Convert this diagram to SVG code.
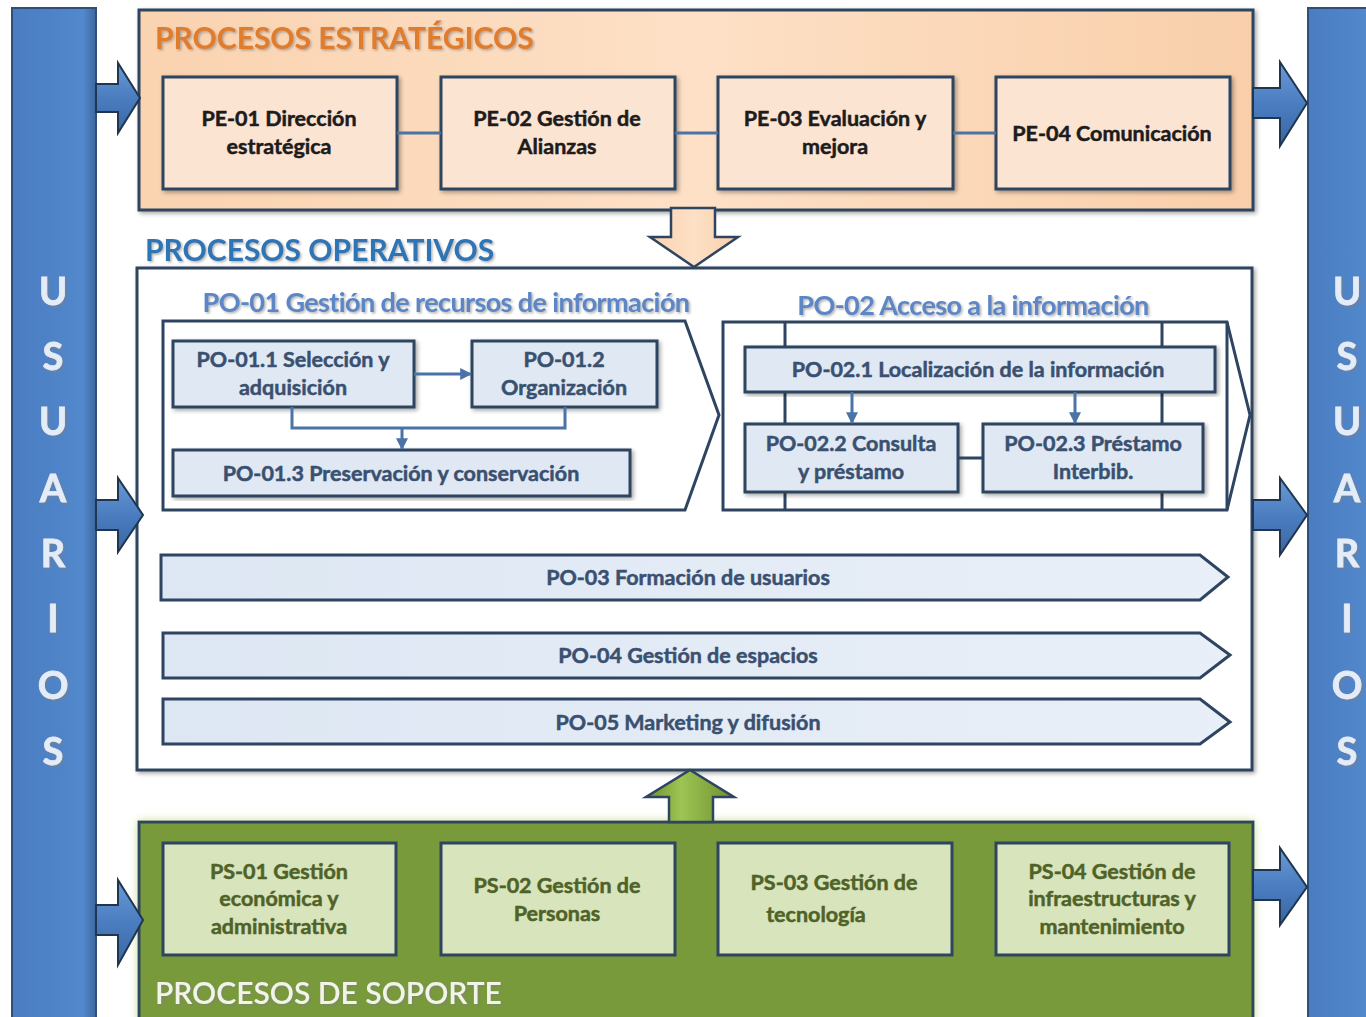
<svg xmlns="http://www.w3.org/2000/svg" width="1366" height="1017" viewBox="0 0 1366 1017">
<defs>
<linearGradient id="gBar" x1="0" y1="0" x2="1" y2="0">
<stop offset="0" stop-color="#4a7cc0"/><stop offset="0.85" stop-color="#5288cc"/><stop offset="1" stop-color="#3d679f"/>
</linearGradient>
<linearGradient id="gArrow" x1="0" y1="0" x2="0" y2="1">
<stop offset="0" stop-color="#6a9ad6"/><stop offset="0.5" stop-color="#4a7dc0"/><stop offset="1" stop-color="#3a66a3"/>
</linearGradient>
<linearGradient id="gOrange" x1="0" y1="0" x2="1" y2="0">
<stop offset="0" stop-color="#fad3b0"/><stop offset="0.5" stop-color="#fde0c6"/><stop offset="1" stop-color="#f9cfaa"/>
</linearGradient>
<linearGradient id="gGreen" x1="0" y1="0" x2="1" y2="0">
<stop offset="0" stop-color="#6f8f2e"/><stop offset="0.4" stop-color="#9dc454"/><stop offset="1" stop-color="#6f8f2e"/>
</linearGradient>
<linearGradient id="gChev" x1="0" y1="0" x2="1" y2="0">
<stop offset="0" stop-color="#dde7f3"/><stop offset="1" stop-color="#e9eff8"/>
</linearGradient>
<filter id="sh" x="-5%" y="-5%" width="110%" height="115%">
<feDropShadow dx="2" dy="2" stdDeviation="2" flood-color="#000" flood-opacity="0.35"/>
</filter>
<filter id="tsh" x="-5%" y="-20%" width="110%" height="150%">
<feDropShadow dx="1.5" dy="1.5" stdDeviation="1" flood-color="#7f7f7f" flood-opacity="0.6"/>
</filter>
<filter id="glow" x="-3%" y="-10%" width="106%" height="120%">
<feDropShadow dx="0" dy="0" stdDeviation="4" flood-color="#c3dc8c" flood-opacity="0.9"/>
</filter>
<marker id="ah" viewBox="0 0 10 10" refX="9" refY="5" markerWidth="4" markerHeight="4" orient="auto" markerUnits="strokeWidth">
<path d="M0,0 L10,5 L0,10 z" fill="#4a73a8"/>
</marker>
</defs>
<style>
.box{stroke:#2e4461;stroke-width:3}
.pe{fill:#fce4d3}
.po{fill:#dfe8f3}
.ps{fill:#d8e4bc}
.t{font-family:Lato,"Open Sans",sans-serif;font-weight:bold;text-anchor:middle;dominant-baseline:central;font-size:21.5px;stroke-width:0.5px}
.tpe{fill:#1c1c1c;stroke:#1c1c1c}
.tpo{fill:#3a5070;stroke:#3a5070}
.tps{fill:#4f6228;stroke:#4f6228}
.title{font-family:Lato,"Open Sans",sans-serif;font-weight:bold;font-size:30px}
.sub{font-family:Lato,"Open Sans",sans-serif;font-weight:bold;font-size:27px;fill:#5b86c6;text-anchor:middle;dominant-baseline:central;letter-spacing:-0.6px}
.usr{font-family:Lato,"Open Sans",sans-serif;font-weight:bold;font-size:38px;fill:#e4ecf7;text-anchor:middle;dominant-baseline:central;stroke:#e4ecf7;stroke-width:0.8px}
.ln{fill:none;stroke:#4a73a8;stroke-width:3}
.blk{stroke:#1f3550;stroke-width:2}
</style>
<rect width="1366" height="1017" fill="#ffffff"/>

<g id="usuarios-left">
<rect x="12" y="8" width="84" height="1012" fill="url(#gBar)" stroke="#2f4f7a" stroke-width="2"/>
<g class="usr" filter="url(#tsh)">
<text x="53" y="290">U</text><text x="53" y="355">S</text><text x="53" y="420">U</text><text x="53" y="487">A</text>
<text x="53" y="552">R</text><text x="53" y="617">I</text><text x="53" y="684">O</text><text x="53" y="750">S</text>
</g>
</g>
<g id="usuarios-right">
<rect x="1308" y="8" width="70" height="1012" fill="url(#gBar)" stroke="#2f4f7a" stroke-width="2"/>
<g class="usr" filter="url(#tsh)">
<text x="1347" y="290">U</text><text x="1347" y="355">S</text><text x="1347" y="420">U</text><text x="1347" y="487">A</text>
<text x="1347" y="552">R</text><text x="1347" y="617">I</text><text x="1347" y="684">O</text><text x="1347" y="750">S</text>
</g>
</g>

<g id="estrategicos">
<rect x="139" y="10" width="1114" height="200" fill="url(#gOrange)" stroke="#2e4461" stroke-width="3" filter="url(#sh)"/>
<text x="155" y="49" class="title" fill="#e07b2a" filter="url(#tsh)">PROCESOS ESTRATÉGICOS</text>
</g>
<g id="pe01"><rect x="163" y="77" width="234" height="112" class="box pe" filter="url(#sh)"/>
<text class="t tpe" x="279"><tspan x="279" y="118">PE-01 Dirección</tspan><tspan x="279" y="146">estratégica</tspan></text></g>
<g id="pe02"><rect x="441" y="77" width="234" height="112" class="box pe" filter="url(#sh)"/>
<text class="t tpe"><tspan x="557" y="118">PE-02 Gestión de</tspan><tspan x="557" y="146">Alianzas</tspan></text></g>
<g id="pe03"><rect x="718" y="77" width="235" height="112" class="box pe" filter="url(#sh)"/>
<text class="t tpe"><tspan x="835" y="118">PE-03 Evaluación y</tspan><tspan x="835" y="146">mejora</tspan></text></g>
<g id="pe04"><rect x="996" y="77" width="234" height="112" class="box pe" filter="url(#sh)"/>
<text class="t tpe" x="1112" y="133">PE-04 Comunicación</text></g>

<g id="operativos">
<text x="145" y="261" class="title" fill="#2e74b5" filter="url(#tsh)">PROCESOS OPERATIVOS</text>
<rect x="137" y="268" width="1115" height="502" fill="#ffffff" stroke="#2e4461" stroke-width="3" filter="url(#sh)"/>
</g>

<g id="po01">
<text class="sub" x="446" y="301" filter="url(#tsh)">PO-01 Gestión de recursos de información</text>
<path d="M163,321 L685,321 L719,415 L685,510 L163,510 Z" fill="#ffffff" class="box"/>
</g>
<g id="po011"><rect x="173" y="341" width="241" height="66" class="box po" filter="url(#sh)"/>
<text class="t tpo"><tspan x="293" y="359">PO-01.1 Selección y</tspan><tspan x="293" y="387">adquisición</tspan></text></g>
<g id="po012"><rect x="472" y="341" width="185" height="66" class="box po" filter="url(#sh)"/>
<text class="t tpo"><tspan x="564" y="359">PO-01.2</tspan><tspan x="564" y="387">Organización</tspan></text></g>
<g id="po013"><rect x="173" y="450" width="457" height="46" class="box po" filter="url(#sh)"/>
<text class="t tpo" x="401" y="473">PO-01.3 Preservación y conservación</text></g>

<g id="po02">
<text class="sub" x="973" y="304" filter="url(#tsh)">PO-02 Acceso a la información</text>
<path d="M723,322 L1227,322 L1250,415 L1227,510 L723,510 Z" fill="#ffffff" class="box"/>
<line x1="1227" y1="322" x2="1227" y2="510" class="box"/>
<line x1="785" y1="322" x2="785" y2="510" class="box"/>
<line x1="1162" y1="322" x2="1162" y2="510" class="box"/>
</g>
<g id="po021"><rect x="745" y="347" width="470" height="45" class="box po" filter="url(#sh)"/>
<text class="t tpo" x="978" y="369">PO-02.1 Localización de la información</text></g>
<g id="po022"><rect x="745" y="424" width="213" height="68" class="box po" filter="url(#sh)"/>
<text class="t tpo"><tspan x="851" y="443">PO-02.2 Consulta</tspan><tspan x="851" y="471">y préstamo</tspan></text></g>
<g id="po023"><rect x="983" y="424" width="220" height="68" class="box po" filter="url(#sh)"/>
<text class="t tpo"><tspan x="1093" y="443">PO-02.3 Préstamo</tspan><tspan x="1093" y="471">Interbib.</tspan></text></g>

<g id="po03"><path d="M161,555 L1200,555 L1228,577 L1200,600 L161,600 Z" fill="url(#gChev)" class="box"/>
<text class="t tpo" x="688" y="577">PO-03 Formación de usuarios</text></g>
<g id="po04"><path d="M163,633 L1200,633 L1230,655 L1200,678 L163,678 Z" fill="url(#gChev)" class="box"/>
<text class="t tpo" x="688" y="655">PO-04 Gestión de espacios</text></g>
<g id="po05"><path d="M163,699 L1200,699 L1230,722 L1200,744 L163,744 Z" fill="url(#gChev)" class="box"/>
<text class="t tpo" x="688" y="722">PO-05 Marketing y difusión</text></g>

<g id="soporte">
<rect x="139" y="822" width="1114" height="200" fill="#789a3a" stroke="#2e4461" stroke-width="3" filter="url(#glow)"/>
<text x="155" y="1004" class="title" fill="#f2f4ea" style="font-weight:600" filter="url(#tsh)">PROCESOS DE SOPORTE</text>
</g>
<g id="ps01"><rect x="163" y="843" width="233" height="112" class="box ps"/>
<text class="t tps"><tspan x="279" y="871">PS-01 Gestión</tspan><tspan x="279" y="898">económica y</tspan><tspan x="279" y="926">administrativa</tspan></text></g>
<g id="ps02"><rect x="441" y="843" width="234" height="112" class="box ps"/>
<text class="t tps"><tspan x="557" y="885">PS-02 Gestión de</tspan><tspan x="557" y="913">Personas</tspan></text></g>
<g id="ps03"><rect x="718" y="843" width="234" height="112" class="box ps"/>
<text class="t tps"><tspan x="834" y="882">PS-03 Gestión de</tspan><tspan x="816" y="914">tecnología</tspan></text></g>
<g id="ps04"><rect x="996" y="843" width="233" height="112" class="box ps"/>
<text class="t tps"><tspan x="1112" y="871">PS-04 Gestión de</tspan><tspan x="1112" y="898">infraestructuras y</tspan><tspan x="1112" y="926">mantenimiento</tspan></text></g>

<g id="connectors">
<line x1="397" y1="133" x2="441" y2="133" class="ln"/>
<line x1="675" y1="133" x2="718" y2="133" class="ln"/>
<line x1="953" y1="133" x2="996" y2="133" class="ln"/>
<line x1="414" y1="374" x2="471" y2="374" class="ln" marker-end="url(#ah)"/>
<polyline points="292,407 292,428 565,428 565,407" class="ln"/>
<line x1="402" y1="428" x2="402" y2="449" class="ln" marker-end="url(#ah)"/>
<line x1="852" y1="392" x2="852" y2="423" class="ln" marker-end="url(#ah)"/>
<line x1="1075" y1="392" x2="1075" y2="423" class="ln" marker-end="url(#ah)"/>
<line x1="958" y1="458" x2="983" y2="458" stroke="#2e4461" stroke-width="3"/>
<path d="M96,84 L118,84 L118,63 L140,98 L118,133 L118,112 L96,112 Z" fill="url(#gArrow)" class="blk"/>
<path d="M1253,88 L1280,88 L1280,62 L1307,103 L1280,146 L1280,118 L1253,118 Z" fill="url(#gArrow)" class="blk"/>
<path d="M96,500 L118,500 L118,478 L143,515 L118,552 L118,530 L96,530 Z" fill="url(#gArrow)" class="blk"/>
<path d="M1253,500 L1280,500 L1280,478 L1307,515 L1280,555 L1280,530 L1253,530 Z" fill="url(#gArrow)" class="blk"/>
<path d="M96,905 L118,905 L118,880 L143,920 L118,965 L118,935 L96,935 Z" fill="url(#gArrow)" class="blk"/>
<path d="M1253,870 L1280,870 L1280,848 L1307,887 L1280,925 L1280,900 L1253,900 Z" fill="url(#gArrow)" class="blk"/>
<path d="M671,208 L715,208 L715,237 L738,237 L694,267 L650,237 L671,237 Z" fill="url(#gOrange)" stroke="#2e4461" stroke-width="2.5"/>
<path d="M669,822 L669,797 L646,797 L690,770 L734,797 L713,797 L713,822 Z" fill="url(#gGreen)" stroke="#2e4461" stroke-width="2.5"/>
</g>
</svg>
